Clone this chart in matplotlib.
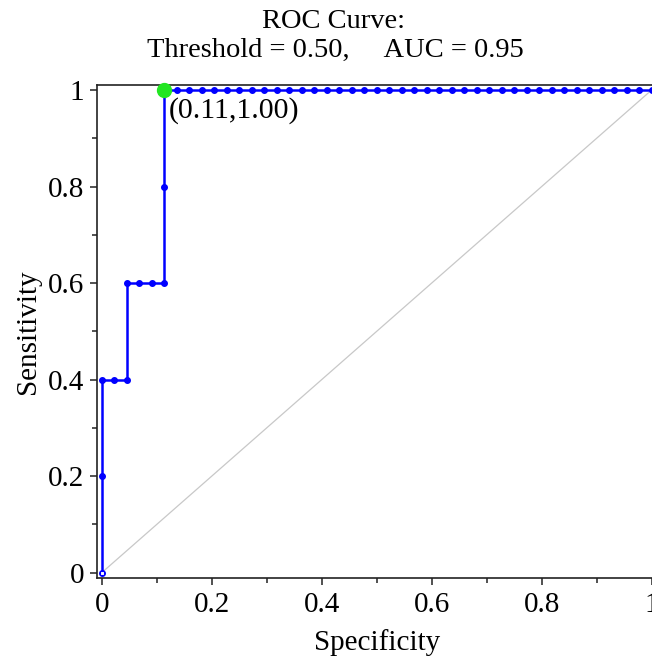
import matplotlib
matplotlib.use("Agg")
import matplotlib.pyplot as plt
import numpy as np

# ROC points (false-positive fraction, sensitivity); 44 negatives, 5 positives
n_neg = 44
fpr_counts = [0, 0, 0, 1, 2, 2, 3, 4, 5, 5, 5] + list(range(6, 45))
sensitivity = [0.0, 0.2, 0.4, 0.4, 0.4, 0.6, 0.6, 0.6, 0.6, 0.8, 1.0] + [1.0] * 39
fpr = [c / n_neg for c in fpr_counts]

best_point = (5 / n_neg, 1.0)
best_label = "(0.11,1.00)"
threshold = 0.50
auc = 0.95

x_ticks = [0, 0.2, 0.4, 0.6, 0.8, 1]
x_ticklabels = ["0", "0.2", "0.4", "0.6", "0.8", "1"]
y_ticks = [0, 0.2, 0.4, 0.6, 0.8, 1]
y_ticklabels = ["0", "0.2", "0.4", "0.6", "0.8", "1"]

plt.rcParams['font.family'] = ['Liberation Serif', 'DejaVu Serif']

W, H = 652, 657
fig = plt.figure(figsize=(W / 100, H / 100), dpi=100)
ax = fig.add_axes([96.7 / W, 1 - 577.7 / H, (657 - 96.7) / W, (577.7 - 85) / H])

ax.set_xlim(-0.0092, 1.0098)
ax.set_ylim(-0.0104, 1.0104)

# diagonal
ax.plot([0, 1], [0, 1], color="#c8c8c8", lw=0.9, zorder=1)

# ROC curve
ax.plot(fpr, sensitivity, color="#0000ff", lw=1.8, marker="o", ms=4.0,
        mec="#0000ff", mfc="#0000ff", zorder=3)
ax.plot(fpr[:1], sensitivity[:1], ls="none", marker="s", ms=3.5,
        mec="#0000ff", mfc="white", mew=0.8, zorder=4)

# best point
ax.plot([best_point[0]], [best_point[1]], ls="none", marker="o", ms=10,
        color="#22e622", zorder=5, clip_on=False)
ax.annotate(best_label, xy=best_point, xytext=(3, -5), textcoords="offset points",
            ha="left", va="top", fontsize=21.5, color="black", zorder=6)

for s in ["right"]:
    ax.spines[s].set_visible(False)
for s in ["left", "bottom", "top"]:
    ax.spines[s].set_linewidth(1.2)
    ax.spines[s].set_color("#222222")

ax.set_xticks(x_ticks)
ax.set_xticklabels(x_ticklabels)
ax.set_yticks(y_ticks)
ax.set_yticklabels(y_ticklabels)
ax.set_xticks([0.1, 0.3, 0.5, 0.7, 0.9], minor=True)
ax.set_yticks([0.1, 0.3, 0.5, 0.7, 0.9], minor=True)
ax.tick_params(which="major", direction="out", length=5, width=1.1, labelsize=21,
               color="#222222")
ax.tick_params(axis="x", which="major", pad=5)
ax.tick_params(axis="y", which="major", pad=4)
ax.tick_params(which="minor", direction="out", length=3.5, width=1.1, color="#222222")
ax.tick_params(top=False, right=False, which="both")

ax.set_xlabel("Specificity", fontsize=21, labelpad=8)
ax.set_ylabel("Sensitivity", fontsize=21, labelpad=5)

fig.text(333 / W, 1 - 21 / H, "ROC Curve:", ha="center", va="center", fontsize=20.5)
fig.text(335 / W, 1 - 50 / H, f"Threshold = {threshold:.2f},     AUC = {auc:.2f}",
         ha="center", va="center", fontsize=20.5)

fig.savefig("out.png", dpi=100)
